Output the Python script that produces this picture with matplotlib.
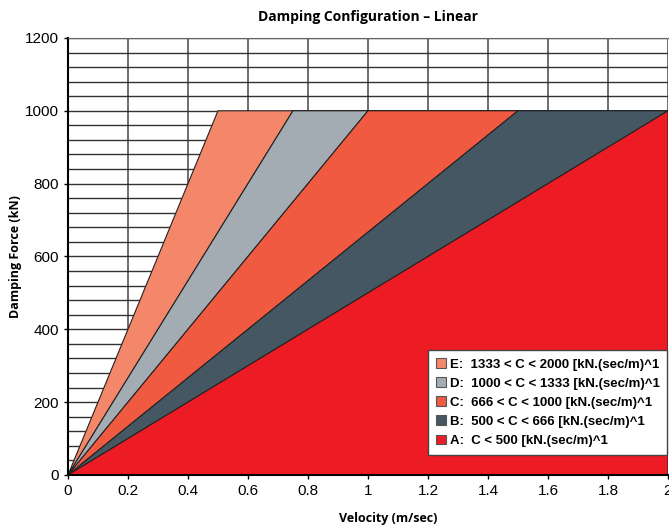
import matplotlib
matplotlib.use("Agg")
import matplotlib.pyplot as plt
from matplotlib.patches import Patch
from matplotlib.ticker import MultipleLocator

# knee velocities (m/sec) where each boundary line reaches the force cap
knee_velocity = [0.5, 0.75, 1.0, 1.5, 2.0]
force_cap = 1000
v_max = 2.0

labels = [
    "E:  1333 < C < 2000 [kN.(sec/m)^1",
    "D:  1000 < C < 1333 [kN.(sec/m)^1",
    "C:  666 < C < 1000 [kN.(sec/m)^1",
    "B:  500 < C < 666 [kN.(sec/m)^1",
    "A:  C < 500 [kN.(sec/m)^1",
]
colors = ["#F4866A", "#A3ACB3", "#EF5A40", "#465764", "#ED1C24"]

plt.rcParams['font.family'] = ['Liberation Sans', 'DejaVu Sans']

fig = plt.figure(figsize=(6.69, 5.27), dpi=100)
ax = fig.add_axes([0.1016, 0.0987, 0.8969, 0.8293])

# boundary polylines: origin -> knee -> flat at cap
bounds = []
for k in knee_velocity:
    bounds.append(([0, k, v_max], [0, force_cap, force_cap]))
# bottom boundary for region A
bounds.append(([0, v_max], [0, 0]))

for i in range(len(colors)):
    ux, uy = bounds[i]
    lx, ly = bounds[i + 1]
    xs = list(ux) + list(lx[::-1])
    ys = list(uy) + list(ly[::-1])
    ax.fill(xs, ys, facecolor=colors[i], edgecolor="#222222", lw=0.8, zorder=2)

ax.set_xlim(0, v_max)
ax.set_ylim(0, 1200)
ax.xaxis.set_major_locator(MultipleLocator(0.2))
ax.yaxis.set_major_locator(MultipleLocator(200))
ax.yaxis.set_minor_locator(MultipleLocator(40))
ax.xaxis.set_major_formatter(plt.FuncFormatter(lambda x, p: f"{x:g}"))
ax.grid(True, which="major", axis="x", color="#555555", lw=1.2, zorder=0)
ax.grid(True, which="both", axis="y", color="#333333", lw=1.0, zorder=0)
ax.set_axisbelow(True)
ax.spines["right"].set_visible(False)
ax.spines["top"].set_color("#666666")
ax.spines["left"].set_linewidth(1.5)
ax.spines["bottom"].set_linewidth(1.5)
ax.tick_params(axis="both", which="major", labelsize=11, length=3, width=1)
ax.tick_params(axis="y", which="minor", length=0)

ax.set_title("Damping Configuration \u2013 Linear", fontsize=10, fontweight="bold",
             family=["Open Sans", "DejaVu Sans"], pad=12)
ax.set_xlabel("Velocity (m/sec)", fontsize=9, fontweight="bold",
              family=["Open Sans", "DejaVu Sans"], labelpad=10, x=0.533)
ax.set_ylabel("Damping Force (kN)", fontsize=9, fontweight="bold",
              family=["Open Sans", "DejaVu Sans"], labelpad=2)

handles = [Patch(facecolor=c, edgecolor="#555555", lw=0.8) for c in colors]
leg = ax.legend(handles, labels, loc="lower right", bbox_to_anchor=(0.999, 0.046),
                borderaxespad=0, prop={"size": 9.5, "weight": "bold"}, fancybox=False,
                framealpha=1, edgecolor="#444444", handlelength=0.75,
                handleheight=0.75, handletextpad=0.3, labelspacing=0.5,
                borderpad=0.6)
leg.get_frame().set_linewidth(1.0)

fig.savefig("out.png", dpi=100)
